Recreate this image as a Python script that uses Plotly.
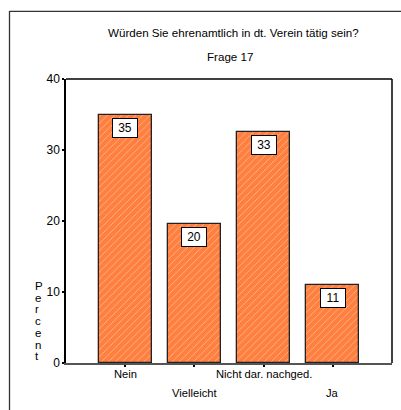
import plotly.graph_objects as go

categories = ["Nein", "Vielleicht", "Nicht dar. nachged.", "Ja"]
percent = [34.9, 19.6, 32.6, 11.0]
labels = ["35", "20", "33", "11"]
y_ticks = [0, 10, 20, 30, 40]
title_main = "Würden Sie ehrenamtlich in dt. Verein tätig sein?"
title_sub = "Frage 17"
y_title = "Percent"

W, H = 401, 410
ML, MR, MT, MB = 66, 9, 79, 47
PW, PH = W - ML - MR, H - MT - MB
FONT = "Liberation Sans, Arial, sans-serif"


def px(x):
    return (x - ML) / PW


def py(y):
    return (H - MB - y) / PH


xpos = list(range(len(categories)))

fig = go.Figure()
fig.add_trace(go.Bar(
    x=xpos, y=percent, width=0.77,
    marker=dict(color="#FF7F3F",
                line=dict(color="#222222", width=1.3),
                pattern=dict(shape="/", fgcolor="white", bgcolor="#FF7F3F",
                             size=5, solidity=0.15, fillmode="overlay")),
    hoverinfo="skip", showlegend=False,
))

# value labels
for xi, v, lab in zip(xpos, percent, labels):
    fig.add_annotation(x=xi, y=v, xref="x", yref="y", text=lab, showarrow=False,
                       yanchor="top", yshift=-3, bgcolor="white",
                       bordercolor="black", borderwidth=1, borderpad=2,
                       width=20, font=dict(family=FONT, size=12, color="black"))

# staggered category labels
for i, (xi, c) in enumerate(zip(xpos, categories)):
    fig.add_annotation(x=xi, xref="x", y=py(374 if i % 2 == 0 else 393), yref="paper",
                       text=c, showarrow=False, yanchor="middle",
                       font=dict(family=FONT, size=11.2, color="black"))

# titles
fig.add_annotation(x=px(233), y=py(32), xref="paper", yref="paper", text=title_main,
                   showarrow=False, yanchor="middle",
                   font=dict(family=FONT, size=11.6, color="black"))
fig.add_annotation(x=px(230), y=py(56), xref="paper", yref="paper", text=title_sub,
                   showarrow=False, yanchor="middle",
                   font=dict(family=FONT, size=11.6, color="black"))

# vertical stacked axis title
for k, ch in enumerate(y_title):
    fig.add_annotation(x=px(32.5), y=py(286 + k * 11.7), xref="paper", yref="paper",
                       text=ch, showarrow=False, yanchor="middle",
                       font=dict(family=FONT, size=11.5, color="black"))

fig.update_layout(
    width=W, height=H,
    margin=dict(l=ML, r=MR, t=MT, b=MB),
    paper_bgcolor="white", plot_bgcolor="white",
    font=dict(family=FONT, size=12, color="black"),
    xaxis=dict(range=[-0.855, 3.855], tickvals=xpos, ticktext=[""] * len(xpos),
               ticks="outside", ticklen=2, tickwidth=2, tickcolor="black",
               showgrid=False, zeroline=False, showline=True, linecolor="#555555",
               linewidth=1.5, mirror=False, fixedrange=True),
    yaxis=dict(range=[0, 40], tickvals=y_ticks, ticks="outside", ticklen=2,
               tickwidth=2, tickcolor="black", showgrid=False, zeroline=False,
               showline=True, linecolor="black", linewidth=1.5, mirror=False,
               tickfont=dict(family=FONT, size=12), fixedrange=True),
    bargap=0,
)

# plot frame top/right
fig.add_shape(type="line", xref="paper", yref="paper", x0=0, x1=1, y0=1, y1=1,
              line=dict(color="black", width=1.5))
fig.add_shape(type="line", xref="paper", yref="paper", x0=1, x1=1, y0=0, y1=1,
              line=dict(color="black", width=1.5))
# outer frame (left and top edges visible)
fig.add_shape(type="line", xref="paper", yref="paper", x0=px(9.5), x1=px(9.5),
              y0=py(11), y1=py(412), line=dict(color="#333333", width=1.3))
fig.add_shape(type="line", xref="paper", yref="paper", x0=px(9.5), x1=px(403),
              y0=py(11.3), y1=py(11.3), line=dict(color="#333333", width=1.3))

fig.write_html("out.html", config={"displayModeBar": False},
               post_script="document.body.style.margin='0';")
